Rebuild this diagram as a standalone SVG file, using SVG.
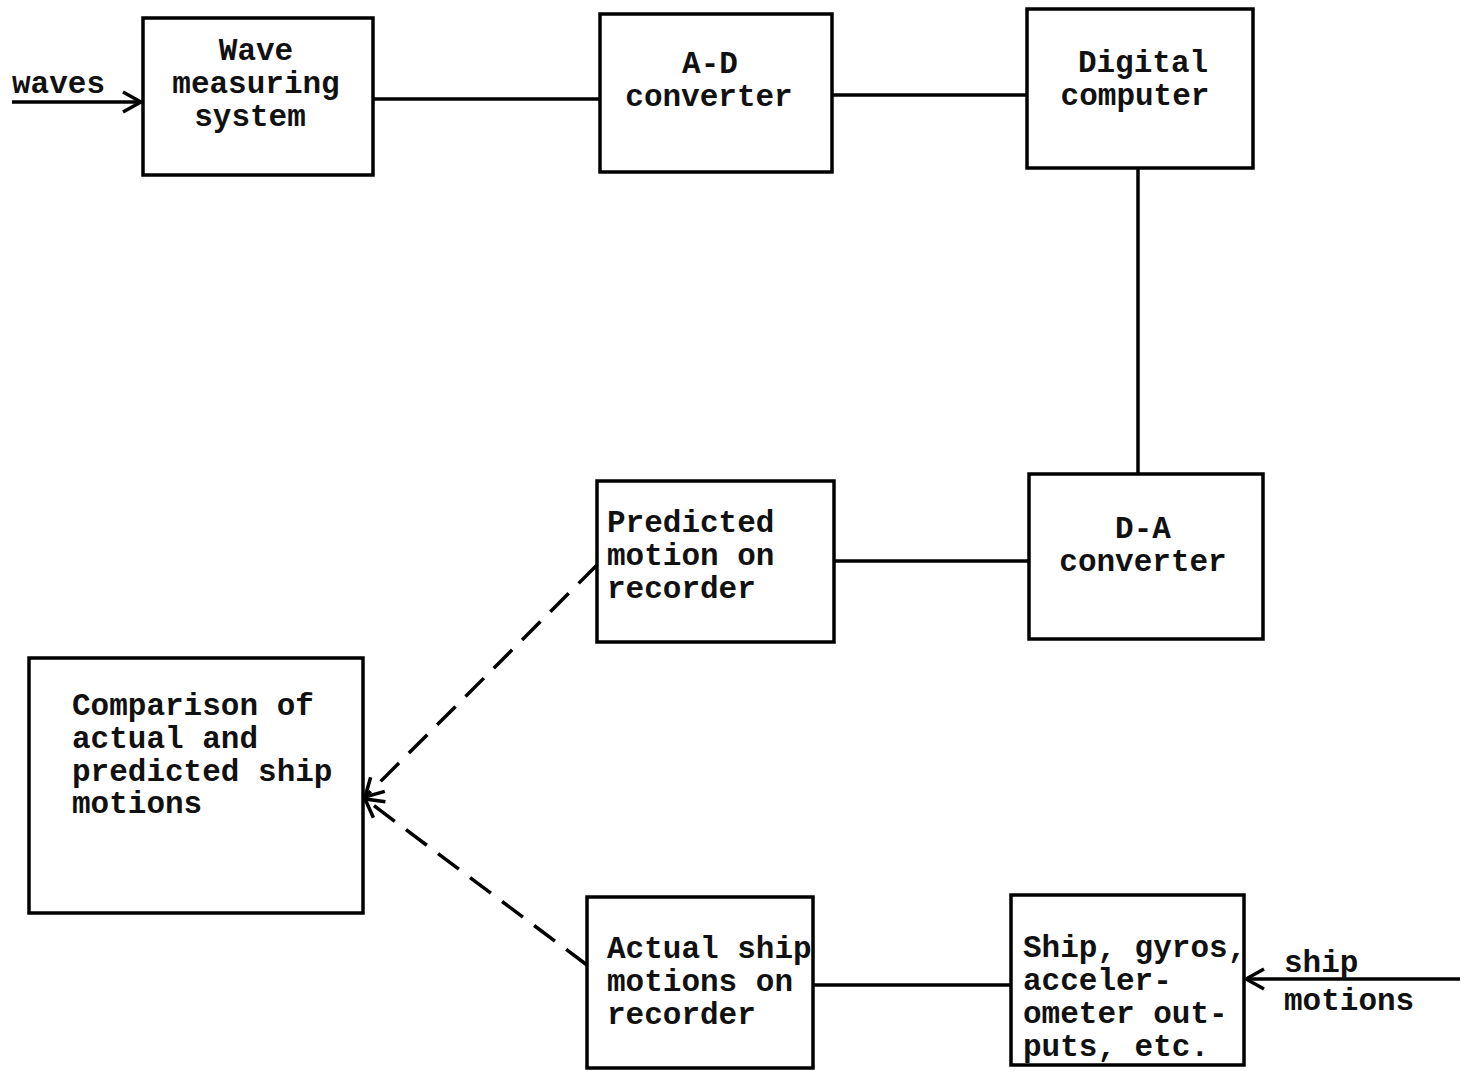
<svg xmlns="http://www.w3.org/2000/svg" width="1468" height="1071" viewBox="0 0 1468 1071">
<defs>
<style>
.box{fill:none;stroke:#000;stroke-width:3.5}
.ln{fill:none;stroke:#000;stroke-width:3.5}
.dash{fill:none;stroke:#000;stroke-width:3.5;stroke-dasharray:26 14}
text{font-family:"Liberation Mono","Courier New",monospace;font-size:31px;font-weight:bold;fill:#111}
.c{text-anchor:middle}
</style>
<marker id="chev" viewBox="0 0 24 24" refX="21" refY="12" markerWidth="24" markerHeight="24" markerUnits="userSpaceOnUse" orient="auto">
<path d="M3 2 L21 12 L3 22" fill="none" stroke="#000" stroke-width="3.5"/>
</marker>
</defs>
<rect width="1468" height="1071" fill="#fff"/>
<g id="connectors">
<line class="ln" x1="12" y1="102" x2="141" y2="102" marker-end="url(#chev)"/>
<line class="ln" x1="373" y1="99" x2="600" y2="99"/>
<line class="ln" x1="832" y1="95" x2="1027" y2="95"/>
<line class="ln" x1="1138" y1="168" x2="1138" y2="474"/>
<line class="ln" x1="834" y1="561" x2="1029" y2="561"/>
<line class="dash" x1="597" y1="565" x2="365" y2="797" marker-end="url(#chev)"/>
<line class="dash" x1="587" y1="965" x2="365" y2="799" marker-end="url(#chev)"/>
<line class="ln" x1="813" y1="985" x2="1011" y2="985"/>
<line class="ln" x1="1460" y1="979" x2="1246" y2="979" marker-end="url(#chev)"/>
</g>
<g id="waves-label"><text x="12" y="93">waves</text></g>
<g id="wave-measuring">
<rect class="box" x="143" y="18" width="230" height="157"/>
<text class="c" x="256" y="60">Wave</text>
<text class="c" x="256" y="93">measuring</text>
<text class="c" x="250" y="126">system</text>
</g>
<g id="ad-converter">
<rect class="box" x="600" y="14" width="232" height="158"/>
<text class="c" x="710" y="73">A-D</text>
<text class="c" x="709" y="106">converter</text>
</g>
<g id="digital-computer">
<rect class="box" x="1027" y="9" width="226" height="159"/>
<text class="c" x="1143" y="72">Digital</text>
<text class="c" x="1135" y="105">computer</text>
</g>
<g id="predicted">
<rect class="box" x="597" y="481" width="237" height="161"/>
<text x="607" y="532">Predicted</text>
<text x="607" y="565">motion on</text>
<text x="607" y="598">recorder</text>
</g>
<g id="da-converter">
<rect class="box" x="1029" y="474" width="234" height="165"/>
<text class="c" x="1143" y="538">D-A</text>
<text class="c" x="1143" y="571">converter</text>
</g>
<g id="comparison">
<rect class="box" x="29" y="658" width="334" height="255"/>
<text x="72" y="715">Comparison of</text>
<text x="72" y="748">actual and</text>
<text x="72" y="781">predicted ship</text>
<text x="72" y="813">motions</text>
</g>
<g id="actual">
<rect class="box" x="587" y="897" width="226" height="171"/>
<text x="607" y="958">Actual ship</text>
<text x="607" y="991">motions on</text>
<text x="607" y="1024">recorder</text>
</g>
<g id="ship-gyros">
<rect class="box" x="1011" y="895" width="233" height="170"/>
<text x="1023" y="957">Ship, gyros,</text>
<text x="1023" y="990">acceler-</text>
<text x="1023" y="1023">ometer out-</text>
<text x="1023" y="1056">puts, etc.</text>
</g>
<g id="ship-motions-label">
<text x="1284" y="972">ship</text>
<text x="1284" y="1010">motions</text>
</g>
</svg>
